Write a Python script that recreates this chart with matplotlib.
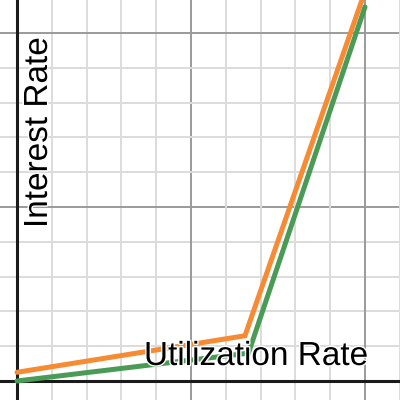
import numpy as np
import matplotlib
matplotlib.use("Agg")
import matplotlib.pyplot as plt
import matplotlib.patheffects as pe

# kinked rate curves (grid units: 1 major square = 1)
orange_x = [0.0, 1.31, 2.0]
orange_y = [0.05, 0.26, 2.24]
green_x = [0.0, 1.33, 2.0]
green_y = [0.0, 0.16, 2.15]

x_label = "Utilization Rate"
y_label = "Interest Rate"

fig = plt.figure(figsize=(4, 4), dpi=100)
ax = fig.add_axes([0, 0, 1, 1])
ax.set_xlim(-17 / 174, 383 / 174)
ax.set_ylim(-19 / 174, 381 / 174)

# minor and major grid
for v in np.arange(-0.2, 2.4, 0.2):
    major = abs(v - round(v)) < 1e-6
    c = "#9a9a9a" if major else "#dcdcdc"
    ax.axvline(v, color=c, lw=1.4, zorder=1)
    ax.axhline(v, color=c, lw=1.4, zorder=1)
ax.axvline(0, color="#1a1a1a", lw=2.2, zorder=2)
ax.axhline(0, color="#1a1a1a", lw=2.2, zorder=2)

ax.plot(orange_x, orange_y, color="#f68b33", lw=3.6, solid_capstyle="round",
        solid_joinstyle="miter", zorder=3)
ax.plot(green_x, green_y, color="#4a9b55", lw=3.6, solid_capstyle="round",
        solid_joinstyle="miter", zorder=3)

halo = [pe.withStroke(linewidth=2, foreground="white")]
ax.text(2.017, 0.092, x_label, fontsize=24, family="Liberation Sans",
        ha="right", va="baseline", zorder=4, path_effects=halo)
ax.text(0.172, 0.879, y_label, fontsize=24, family="Liberation Sans",
        rotation=90, rotation_mode="anchor", ha="left", va="baseline",
        zorder=4, path_effects=halo)

ax.set_xticks([])
ax.set_yticks([])
for s in ax.spines.values():
    s.set_visible(False)

fig.savefig("out.png", dpi=100)
